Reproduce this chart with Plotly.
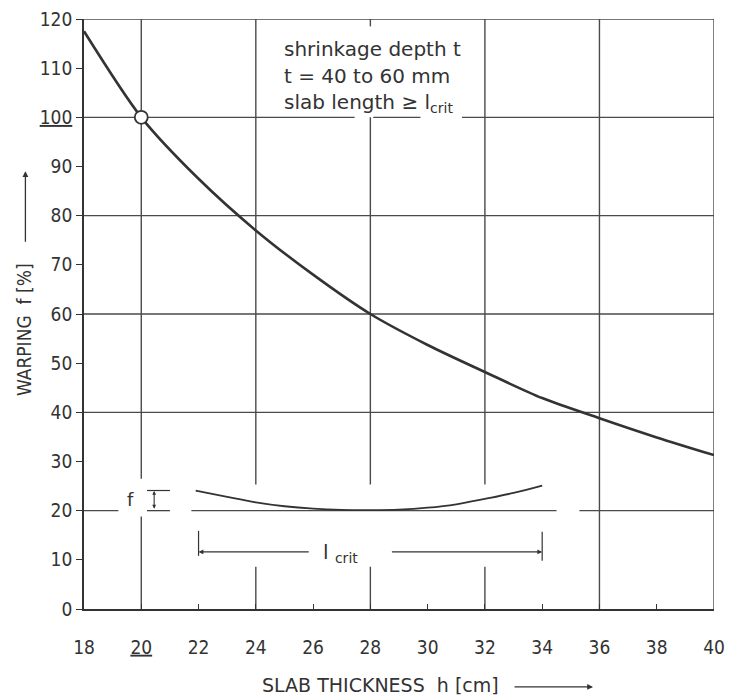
import plotly.graph_objects as go

# Warping of the slab relative to a 20 cm slab, by slab thickness
thickness_cm = [18, 20, 22, 24, 26, 28, 30, 32, 34, 36, 38, 40]
warping_pct = [117.5, 100, 87.5, 77, 68, 60, 53.7, 48.2, 42.9, 38.8, 34.9, 31.3]

# Reference slab (100 %)
ref_thickness = [20]
ref_warping = [100]

# Sketch of a curled slab drawn inside the chart
slab_x = [21.9, 23, 24, 25, 26, 27, 28, 29, 30, 31, 32, 33, 34]
slab_y = [24.1, 22.8, 21.7, 20.9, 20.4, 20.15, 20.1, 20.2, 20.6, 21.3, 22.4, 23.6, 25.1]

x_ticks = list(range(18, 41, 2))
y_ticks = list(range(0, 121, 10))
x_underlined = [20]
y_underlined = [100]

INK = "#333333"
GRID = "#4a4a4a"
FONT = "DejaVu Sans Condensed"
FONT_WIDE = "DejaVu Sans"


def label(v, underlined):
    if v in underlined:
        return f'<span style="text-decoration:underline">{v}</span>'
    return str(v)


fig = go.Figure()

# Grid, broken where the annotations sit
h_grid = {
    20: [(18, 19.2), (21.75, 34.5), (35.3, 40)],
    40: [(18, 40)],
    60: [(18, 40)],
    80: [(18, 40)],
    100: [(18, 27.45), (28.1, 29.75), (31.2, 40)],
    120: [(18, 40)],
}
v_grid = {
    20: [(0, 18.8), (26.5, 120)],
    24: [(0, 8.6), (25.3, 120)],
    28: [(0, 8.6), (25.3, 100), (118.5, 120)],
    32: [(0, 8.6), (25.3, 120)],
    36: [(0, 120)],
    40: [(0, 120)],
}
shapes = []
for yv, spans in h_grid.items():
    for a, b in spans:
        shapes.append(dict(type="line", xref="x", yref="y", x0=a, x1=b, y0=yv, y1=yv,
                           line=dict(color=GRID, width=1.4), layer="below"))
for xv, spans in v_grid.items():
    for a, b in spans:
        shapes.append(dict(type="line", xref="x", yref="y", x0=xv, x1=xv, y0=a, y1=b,
                           line=dict(color=GRID, width=1.4), layer="below"))

# Dimension marks of the slab sketch
for yv in (24.1, 20.0):
    shapes.append(dict(type="line", xref="x", yref="y", x0=20.2, x1=21.0, y0=yv, y1=yv,
                       line=dict(color=INK, width=1.2)))
shapes.append(dict(type="line", xref="x", yref="y", x0=22, x1=22, y0=10.8, y1=15.9,
                   line=dict(color=INK, width=1.2)))
shapes.append(dict(type="line", xref="x", yref="y", x0=34, x1=34, y0=9.8, y1=15.7,
                   line=dict(color=INK, width=1.2)))

# Main curve
fig.add_trace(go.Scatter(
    x=thickness_cm, y=warping_pct, mode="lines",
    line=dict(color=INK, width=2.6, shape="spline", smoothing=0.8),
    hoverinfo="skip", showlegend=False,
))
# Curled slab sketch
fig.add_trace(go.Scatter(
    x=slab_x, y=slab_y, mode="lines",
    line=dict(color=INK, width=1.8, shape="spline", smoothing=1.0),
    hoverinfo="skip", showlegend=False,
))
# Reference point
fig.add_trace(go.Scatter(
    x=ref_thickness, y=ref_warping, mode="markers",
    marker=dict(size=13, color="white", line=dict(color=INK, width=1.8)),
    hoverinfo="skip", showlegend=False, cliponaxis=False,
))

txt = dict(family=FONT_WIDE, size=20, color=INK)
annotations = [
    dict(x=24.9, y=113.8, xref="x", yref="y", xanchor="left", yanchor="middle",
         text="shrinkage depth t", showarrow=False, font=txt),
    dict(x=24.9, y=108.4, xref="x", yref="y", xanchor="left", yanchor="middle",
         text="t = 40 to 60 mm", showarrow=False, font=txt),
    dict(x=24.9, y=102.9, xref="x", yref="y", xanchor="left", yanchor="middle",
         text="slab length \u2265 l<sub>crit</sub>", showarrow=False, font=txt),
    dict(x=19.64, y=22.2, xref="x", yref="y", xanchor="center", yanchor="middle",
         text="f", showarrow=False, font=dict(family=FONT_WIDE, size=18, color=INK)),
    dict(x=26.95, y=11.3, xref="x", yref="y", xanchor="center", yanchor="middle",
         text="l <sub>crit</sub>", showarrow=False,
         font=dict(family=FONT_WIDE, size=20, color=INK)),
    # double arrow for f
    dict(x=20.45, y=24.0, ax=20.45, ay=20.1, xref="x", yref="y", axref="x", ayref="y",
         text="", showarrow=True, arrowside="end+start", arrowhead=2, arrowsize=0.7,
         arrowwidth=1.1, arrowcolor=INK),
    # l_crit dimension line
    dict(x=22, y=11.6, ax=25.9, ay=11.6, xref="x", yref="y", axref="x", ayref="y",
         text="", showarrow=True, arrowhead=2, arrowsize=0.8, arrowwidth=1.2, arrowcolor=INK),
    dict(x=34, y=11.6, ax=28.7, ay=11.6, xref="x", yref="y", axref="x", ayref="y",
         text="", showarrow=True, arrowhead=2, arrowsize=0.8, arrowwidth=1.2, arrowcolor=INK),
    # axis titles with arrows
    dict(x=-0.094, y=0.474, xref="paper", yref="paper", xanchor="center", yanchor="middle",
         text="WARPING \u00a0f [%]", textangle=-90, showarrow=False,
         font=dict(family=FONT, size=19, color=INK)),
    dict(x=-0.093, y=0.742, xref="paper", yref="paper", ax=0, ay=72, text="",
         showarrow=True, arrowhead=2, arrowsize=0.9, arrowwidth=1.3, arrowcolor=INK),
    dict(x=0.471, y=-0.129, xref="paper", yref="paper", xanchor="center", yanchor="middle",
         text="SLAB THICKNESS \u00a0h [cm]", showarrow=False,
         font=dict(family=FONT_WIDE, size=19, color=INK)),
    dict(x=0.808, y=-0.132, xref="paper", yref="paper", ax=-80, ay=0, text="",
         showarrow=True, arrowhead=2, arrowsize=0.9, arrowwidth=1.3, arrowcolor=INK),
]

fig.update_layout(
    width=729, height=696,
    margin=dict(l=84, r=15, t=19, b=87),
    paper_bgcolor="white", plot_bgcolor="white",
    shapes=shapes, annotations=annotations,
    font=dict(family=FONT, size=18, color=INK),
)
fig.update_xaxes(
    range=[18, 40], showgrid=False, zeroline=False,
    showline=True, linecolor=INK, linewidth=1.8,
    tickmode="array", tickvals=x_ticks,
    ticktext=[label(v, x_underlined) for v in x_ticks],
    ticks="inside", ticklen=5, tickwidth=1.3, tickcolor=INK,
    ticklabelstandoff=20, ticklabeloverflow="allow",
    tickfont=dict(family=FONT, size=19, color=INK),
    automargin=False,
)
fig.update_yaxes(
    range=[0, 120], showgrid=False, zeroline=False,
    showline=True, linecolor=INK, linewidth=1.8,
    tickmode="array", tickvals=y_ticks,
    ticktext=[label(v, y_underlined) for v in y_ticks],
    ticks="outside", ticklen=6, tickwidth=1.3, tickcolor=INK,
    ticklabeloverflow="allow",
    tickfont=dict(family=FONT, size=19, color=INK),
    automargin=False,
)

fig.write_html("out.html")
